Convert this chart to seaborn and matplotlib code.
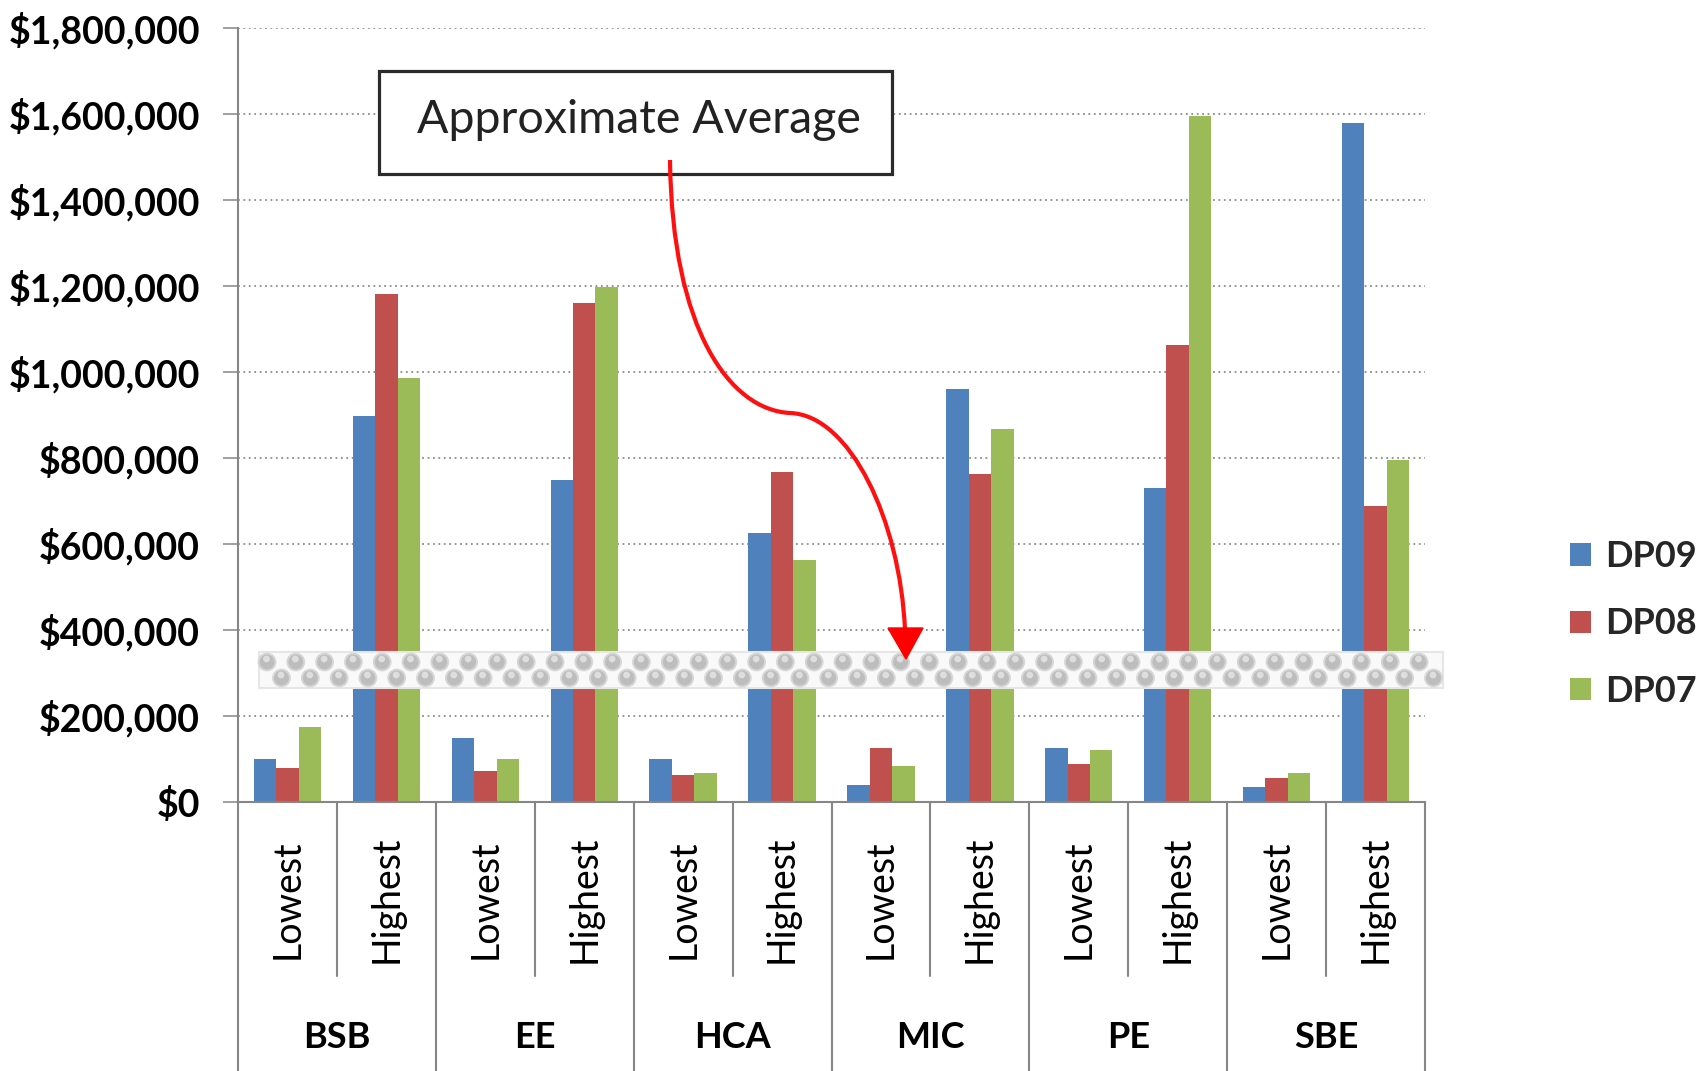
import numpy as np
import pandas as pd
import matplotlib
matplotlib.use("Agg")
import matplotlib.pyplot as plt
import matplotlib.transforms as mtransforms
from matplotlib.patches import Rectangle, Circle, PathPatch, Polygon
from matplotlib.path import Path
from matplotlib.ticker import FuncFormatter, MultipleLocator
import seaborn as sns

# data
groups = ['BSB', 'EE', 'HCA', 'MIC', 'PE', 'SBE']
levels = ['Lowest', 'Highest']
series = ['DP09', 'DP08', 'DP07']
dp09 = [99000, 898000, 149000, 748000, 99000, 626000, 38000, 959000, 126000, 730000, 34000, 1578000]
dp08 = [78000, 1181000, 72000, 1159000, 62000, 767000, 126000, 763000, 88000, 1061000, 55000, 687000]
dp07 = [174000, 985000, 99000, 1197000, 66000, 561000, 83000, 866000, 120000, 1595000, 66000, 795000]
colors = ['#4F81BD', '#C0504D', '#9BBB59']
note_text = 'Approximate Average'

cats = [f'{g} {l}' for g in groups for l in levels]
rows = []
for s, vals in zip(series, [dp09, dp08, dp07]):
    for c, v in zip(cats, vals):
        rows.append({'cat': c, 'series': s, 'value': v})
df = pd.DataFrame(rows)

sns.set_theme(style='white')
plt.rcParams['font.family'] = ['Lato', 'DejaVu Sans']

W, H = 1696, 1071
fig = plt.figure(figsize=(W / 100, H / 100), dpi=100)
# axes placed in pixel terms of the reference
x0, x1, y_top, y_base = 238, 1425, 27.7, 801.7
ax = fig.add_axes([x0 / W, 1 - y_base / H, (x1 - x0) / W, (y_base - y_top) / H])

sns.barplot(data=df, x='cat', y='value', hue='series', order=cats, hue_order=series,
            palette=colors, width=0.68, saturation=1, linewidth=0, ax=ax)

ax.set_ylim(0, 1800000)
ax.set_xlim(-0.5, len(cats) - 0.5)
ax.yaxis.set_major_locator(MultipleLocator(200000))
ax.yaxis.set_major_formatter(FuncFormatter(lambda v, p: f'${v:,.0f}'))
ax.set_xlabel('')
ax.set_ylabel('')
ax.yaxis.grid(True, linestyle=(0, (1, 2)), color='#8c8c8c', linewidth=1.3)
ax.set_axisbelow(True)
for side in ['top', 'right']:
    ax.spines[side].set_visible(False)
for side in ['left', 'bottom']:
    ax.spines[side].set_color('#868686')
    ax.spines[side].set_linewidth(1.5)
ax.tick_params(axis='y', left=True, length=10.8, width=1.1, color='#868686', pad=16.5,
               labelsize=27, labelcolor='black')
ax.tick_params(axis='x', length=0, labelbottom=False)
for lab in ax.get_yticklabels():
    lab.set_fontweight('bold')

# multi-level category axis
axh = y_base - y_top
tr = ax.get_xaxis_transform()
for k in range(len(groups) + 1):
    ax.plot([2 * k - 0.5, 2 * k - 0.5], [0, -(H - y_base) / axh], color='#868686',
            lw=1.5, transform=tr, clip_on=False)
for k in range(len(groups)):
    ax.plot([2 * k + 0.5, 2 * k + 0.5], [0, -(976 - y_base) / axh], color='#868686',
            lw=1.5, transform=tr, clip_on=False)
    ax.text(2 * k + 0.5, -(1037 - y_base) / axh, groups[k], transform=tr, ha='center',
            va='center', fontsize=26, fontweight='bold', color='black')
for i, c in enumerate(cats):
    ax.text(i, -(899 - y_base) / axh, c.split(' ')[1], transform=tr, rotation=90,
            ha='center', va='center', fontsize=27, color='black')

# legend on the right, partly cut by the figure edge
sns.move_legend(ax, 'center left', bbox_to_anchor=(1570 / W, 1 - 624 / H),
                bbox_transform=fig.transFigure, frameon=False, title=None,
                fontsize=26, handlelength=0.58, handleheight=0.58,
                handletextpad=0.38, labelspacing=0.95, borderpad=0, borderaxespad=0)
for t in ax.get_legend().get_texts():
    t.set_fontweight('bold')

# pixel transform (y down) for the decorations
pix = mtransforms.Affine2D().scale(1 / W, -1 / H).translate(0, 1) + fig.transFigure

# beaded "average" band over the bars
fig.add_artist(Rectangle((259, 652), 1184, 36, transform=pix, facecolor='#f9f9f9',
                         edgecolor='#e6e6e6', lw=1.5, zorder=5))
for yc, xs in [(662, 267), (678, 281.5)]:
    for xc in np.arange(xs, 1440, 28.8):
        fig.add_artist(Circle((xc, yc), 8.4, transform=pix, facecolor='#bdbdbd',
                              edgecolor='#d6d6d6', lw=1.4, zorder=6))
        fig.add_artist(Circle((xc - 0.5, yc - 3.0), 3.4, transform=pix,
                              facecolor='#dedede', edgecolor='none', zorder=7))

# text box
fig.add_artist(Rectangle((379, 71), 513, 103, transform=pix, facecolor='white',
                         edgecolor='#2b2b2b', lw=2.3, zorder=8))
fig.text(639 / W, 1 - 120 / H, note_text, ha='center', va='center', fontsize=33.5,
         color='#222222', zorder=9)

# red curved arrow
verts = [(670, 160), (672, 330), (730, 410), (790, 413),
         (850, 415), (900, 520), (905, 630)]
codes = [Path.MOVETO, Path.CURVE4, Path.CURVE4, Path.CURVE4,
         Path.CURVE4, Path.CURVE4, Path.CURVE4]
fig.add_artist(PathPatch(Path(verts, codes), transform=pix, facecolor='none',
                         edgecolor='#ff1010', lw=3.0, zorder=10))
fig.add_artist(Polygon([(888, 628), (923, 628), (906, 659)], closed=True, transform=pix,
                       facecolor='#ff0000', edgecolor='#ff0000', lw=1, zorder=10))

fig.savefig('out.png', dpi=100)
